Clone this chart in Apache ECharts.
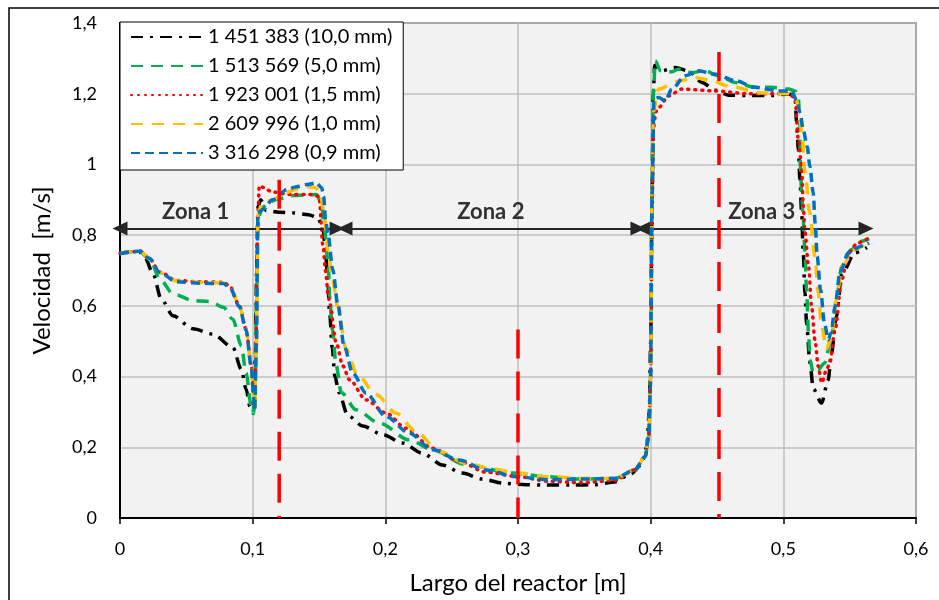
<!DOCTYPE html>
<html>
<head>
<meta charset="utf-8">
<script src="https://cdn.jsdelivr.net/npm/echarts@6/dist/echarts.min.js"></script>
<style>
  html, body { margin: 0; padding: 0; background: #fff; }
  #main { width: 939px; height: 600px; }
</style>
</head>
<body>
<div id="main"></div>
<script>
// series names (legend)
const seriesNames = ['1 451 383 (10,0 mm)', '1 513 569 (5,0 mm)', '1 923 001 (1,5 mm)', '2 609 996 (1,0 mm)', '3 316 298 (0,9 mm)'];
const seriesColors = ['#000000', '#00b050', '#ff0000', '#ffc000', '#0070c0'];

// [x (m), velocidad (m/s)]
const black10mm = [[0,0.748],[0.008,0.752],[0.015,0.752],[0.019,0.735],[0.025,0.69],[0.031,0.62],[0.04,0.572],[0.055,0.535],[0.07,0.52],[0.085,0.483],[0.0915,0.42],[0.095,0.365],[0.098,0.315],[0.1005,0.30],[0.102,0.45],[0.103,0.7],[0.104,0.88],[0.106,0.9],[0.11,0.87],[0.12,0.865],[0.13,0.863],[0.142,0.858],[0.149,0.85],[0.153,0.82],[0.155,0.75],[0.1565,0.68],[0.158,0.58],[0.16,0.48],[0.162,0.4],[0.165,0.355],[0.1717,0.29],[0.183,0.26],[0.198,0.236],[0.213,0.212],[0.228,0.183],[0.243,0.15],[0.258,0.127],[0.273,0.11],[0.29,0.098],[0.306,0.094],[0.32,0.093],[0.34,0.093],[0.358,0.094],[0.373,0.102],[0.385,0.125],[0.393,0.15],[0.397,0.2],[0.399,0.3],[0.4,0.5],[0.401,0.9],[0.402,1.2],[0.403,1.28],[0.405,1.275],[0.4085,1.265],[0.4185,1.274],[0.4286,1.265],[0.4386,1.232],[0.4486,1.21],[0.4586,1.196],[0.4737,1.195],[0.491,1.195],[0.5038,1.199],[0.5088,1.194],[0.510,1.12],[0.5113,1.043],[0.5125,0.958],[0.5138,0.863],[0.515,0.75],[0.5163,0.637],[0.5175,0.552],[0.52,0.44],[0.5226,0.365],[0.5288,0.325],[0.5338,0.39],[0.5363,0.467],[0.54,0.57],[0.544,0.69],[0.554,0.75],[0.563,0.765]];
const green5mm = [[0,0.748],[0.008,0.752],[0.015,0.752],[0.0226,0.731],[0.03,0.676],[0.04,0.634],[0.055,0.615],[0.068,0.612],[0.078,0.596],[0.085,0.562],[0.0915,0.487],[0.095,0.41],[0.099,0.315],[0.1005,0.295],[0.102,0.4],[0.103,0.65],[0.104,0.85],[0.108,0.88],[0.113,0.895],[0.12,0.903],[0.13,0.912],[0.141,0.913],[0.148,0.915],[0.152,0.89],[0.154,0.816],[0.157,0.72],[0.158,0.627],[0.16,0.533],[0.163,0.43],[0.1667,0.355],[0.178,0.306],[0.1955,0.268],[0.218,0.221],[0.2356,0.193],[0.2607,0.151],[0.296,0.127],[0.321,0.117],[0.348,0.11],[0.373,0.112],[0.388,0.136],[0.396,0.175],[0.3985,0.23],[0.4,0.4],[0.401,0.9],[0.402,1.2],[0.4035,1.293],[0.4073,1.265],[0.416,1.262],[0.421,1.269],[0.431,1.26],[0.441,1.265],[0.451,1.251],[0.4636,1.232],[0.4787,1.218],[0.491,1.218],[0.5038,1.213],[0.5088,1.208],[0.5113,1.189],[0.5125,1.11],[0.5128,0.996],[0.5138,0.92],[0.515,0.845],[0.5163,0.75],[0.5175,0.646],[0.519,0.523],[0.52,0.448],[0.5226,0.41],[0.526,0.419],[0.531,0.438],[0.536,0.504],[0.54,0.618],[0.544,0.712],[0.551,0.759],[0.559,0.783],[0.5646,0.79]];
const red15mm = [[0,0.748],[0.008,0.752],[0.015,0.755],[0.022,0.735],[0.03,0.696],[0.0426,0.672],[0.06,0.668],[0.078,0.667],[0.083,0.654],[0.09,0.6],[0.095,0.535],[0.099,0.43],[0.1005,0.355],[0.1015,0.31],[0.1025,0.5],[0.1035,0.8],[0.105,0.94],[0.108,0.935],[0.11,0.929],[0.115,0.922],[0.128,0.915],[0.143,0.915],[0.15,0.91],[0.153,0.77],[0.155,0.697],[0.157,0.627],[0.158,0.608],[0.163,0.495],[0.168,0.43],[0.173,0.391],[0.1855,0.334],[0.2005,0.297],[0.2155,0.254],[0.2356,0.197],[0.2556,0.16],[0.2757,0.13],[0.2982,0.118],[0.323,0.104],[0.348,0.1],[0.373,0.106],[0.388,0.136],[0.396,0.175],[0.3985,0.23],[0.4,0.4],[0.401,0.8],[0.402,1.1],[0.404,1.15],[0.406,1.161],[0.4135,1.194],[0.4236,1.213],[0.4486,1.208],[0.4737,1.2],[0.5038,1.2],[0.5088,1.189],[0.5113,1.071],[0.5138,0.996],[0.515,0.882],[0.5163,0.807],[0.519,0.712],[0.5213,0.599],[0.5238,0.504],[0.5263,0.429],[0.5288,0.382],[0.5326,0.419],[0.535,0.44],[0.539,0.533],[0.544,0.674],[0.549,0.75],[0.556,0.778],[0.5646,0.792]];
const orange10mm = [[0,0.748],[0.008,0.752],[0.015,0.755],[0.022,0.735],[0.03,0.694],[0.0426,0.67],[0.06,0.666],[0.078,0.665],[0.083,0.652],[0.09,0.6],[0.095,0.533],[0.099,0.43],[0.1005,0.355],[0.1015,0.31],[0.1028,0.49],[0.104,0.86],[0.107,0.89],[0.115,0.9],[0.125,0.92],[0.133,0.93],[0.142,0.937],[0.147,0.935],[0.151,0.92],[0.154,0.85],[0.157,0.75],[0.16,0.68],[0.164,0.6],[0.1704,0.478],[0.179,0.405],[0.193,0.349],[0.208,0.297],[0.223,0.245],[0.2406,0.188],[0.2607,0.155],[0.2807,0.138],[0.3008,0.127],[0.321,0.117],[0.348,0.112],[0.373,0.112],[0.388,0.136],[0.396,0.175],[0.3985,0.23],[0.4,0.4],[0.401,0.9],[0.402,1.15],[0.406,1.213],[0.42,1.235],[0.4336,1.246],[0.446,1.237],[0.4586,1.222],[0.4837,1.202],[0.5038,1.2],[0.5088,1.19],[0.5113,1.166],[0.514,1.09],[0.5163,0.977],[0.52,0.863],[0.5238,0.74],[0.5263,0.637],[0.5288,0.542],[0.5326,0.478],[0.536,0.51],[0.54,0.618],[0.544,0.712],[0.554,0.759],[0.5646,0.785]];
const blue09mm = [[0,0.748],[0.008,0.752],[0.015,0.755],[0.022,0.735],[0.03,0.694],[0.0426,0.668],[0.06,0.664],[0.078,0.663],[0.083,0.65],[0.09,0.598],[0.095,0.532],[0.099,0.428],[0.1005,0.354],[0.1015,0.306],[0.1028,0.485],[0.104,0.863],[0.1078,0.873],[0.115,0.9],[0.126,0.929],[0.133,0.937],[0.141,0.943],[0.148,0.948],[0.152,0.934],[0.1535,0.909],[0.155,0.84],[0.1566,0.807],[0.1604,0.703],[0.164,0.608],[0.169,0.485],[0.1754,0.41],[0.1855,0.353],[0.2005,0.287],[0.218,0.24],[0.2356,0.193],[0.2556,0.164],[0.2757,0.136],[0.2982,0.117],[0.323,0.108],[0.348,0.11],[0.373,0.112],[0.388,0.136],[0.396,0.174],[0.3985,0.23],[0.3998,0.372],[0.401,0.9],[0.4025,1.185],[0.406,1.189],[0.411,1.18],[0.416,1.213],[0.426,1.251],[0.436,1.265],[0.4486,1.255],[0.4636,1.237],[0.4787,1.218],[0.4963,1.208],[0.506,1.207],[0.51,1.183],[0.5126,1.146],[0.515,1.098],[0.518,1.05],[0.52,0.994],[0.5225,0.92],[0.524,0.835],[0.5255,0.74],[0.528,0.646],[0.531,0.552],[0.5338,0.504],[0.536,0.523],[0.539,0.599],[0.5426,0.693],[0.549,0.75],[0.559,0.769],[0.5646,0.778]];
const seriesData = [black10mm, green5mm, red15mm, orange10mm, blue09mm];

// red dashed vertical markers
const redLineX = [0.12, 0.3, 0.4515];
const redLineTop = [0.957, 0.533, 1.318];

// zone arrows and labels
const zoneNames = ['Zona 1', 'Zona 2', 'Zona 3'];
const zoneStart = [0, 0.1696, 0.3942];
const zoneEnd = [0.1636, 0.3904, 0.5623];
const zoneArrowY = 0.8185;
const zoneLabelX = [0.057, 0.2795, 0.4837];
const zoneLabelY = 0.866;

const FONT = 'Lato';
const dashes = [[12, 7, 3, 7], [12, 8], [1, 6], [12, 9], [9, 5]];

const chart = echarts.init(document.getElementById('main'), null, { renderer: 'canvas' });

const curveSeries = seriesNames.map((name, i) => ({
  name: name,
  type: 'line',
  data: seriesData[i],
  symbol: 'none',
  smooth: 0.3,
  smoothMonotone: 'x',
  color: seriesColors[i],
  lineStyle: { color: seriesColors[i], width: 3.5, type: dashes[i], cap: i === 2 ? 'round' : 'butt' },
  z: 2 + i
}));

// drawn from top to bottom so the dash pattern starts at the top
const redSeries = redLineX.map((x, i) => ({
  name: 'red' + i,
  type: 'line',
  data: [[x, redLineTop[i]], [x, 0]],
  symbol: 'none',
  silent: true,
  lineStyle: { color: '#ff0000', width: 3.5, type: [29, 13] },
  z: 10
}));

const zoneSeries = {
  name: 'zonas',
  type: 'scatter',
  symbolSize: 0,
  silent: true,
  z: 11,
  data: zoneNames.map((n, i) => ({ name: n, value: [zoneLabelX[i], zoneLabelY] })),
  label: {
    show: true, position: 'inside', formatter: '{b}',
    fontFamily: FONT, fontWeight: 'bold', fontSize: 22, color: '#000'
  },
  markLine: {
    silent: true,
    symbol: ['triangle', 'triangle'],
    symbolSize: [14, 15],
    label: { show: false },
    lineStyle: { color: '#262626', width: 2, type: 'solid' },
    data: zoneNames.map((n, i) => [
      { coord: [zoneStart[i], zoneArrowY] },
      { coord: [zoneEnd[i], zoneArrowY] }
    ])
  }
};

const commaFmt = v => String(Math.round(v * 10) / 10).replace('.', ',');

chart.setOption({
  backgroundColor: '#ffffff',
  animation: false,
  textStyle: { fontFamily: FONT },
  grid: {
    left: 120, right: 23, top: 23, bottom: 81,
    show: true, backgroundColor: '#f2f2f2', borderColor: '#3a3a3a', borderWidth: 1.5
  },
  legend: {
    data: seriesNames,
    orient: 'vertical',
    left: 120, top: 22,
    padding: [5, 11, 7, 10],
    itemWidth: 72, itemHeight: 14, itemGap: 9,
    itemStyle: { opacity: 0 },
    backgroundColor: '#ffffff', borderColor: '#000', borderWidth: 1,
    textStyle: { fontFamily: FONT, fontSize: 20, color: '#000', lineHeight: 20 },
    selectedMode: false
  },
  xAxis: {
    type: 'value', min: 0, max: 0.6, interval: 0.1,
    name: 'Largo del reactor [m]', nameLocation: 'middle', nameGap: 53,
    nameTextStyle: { fontFamily: FONT, fontSize: 24, color: '#000' },
    axisLine: { lineStyle: { color: '#000', width: 2 } },
    axisTick: { show: true, length: 6, lineStyle: { color: '#000', width: 1.5 } },
    axisLabel: { fontFamily: FONT, fontSize: 18, color: '#000', margin: 22, formatter: commaFmt },
    splitLine: { show: true, lineStyle: { color: '#bfbfbf', width: 1.5 } }
  },
  yAxis: {
    type: 'value', min: 0, max: 1.4, interval: 0.2,
    name: 'Velocidad  [m/s]', nameLocation: 'middle', nameGap: 66, nameRotate: 90,
    nameTextStyle: { fontFamily: FONT, fontSize: 24, color: '#000' },
    axisLine: { show: true, lineStyle: { color: '#000', width: 2 } },
    axisTick: { show: false },
    axisLabel: { fontFamily: FONT, fontSize: 18, color: '#000', margin: 23, formatter: commaFmt },
    splitLine: { show: true, lineStyle: { color: '#bfbfbf', width: 1.5 } }
  },
  graphic: [{
    type: 'rect', silent: true, z: 100,
    shape: { x: 9, y: 8, width: 960, height: 620 },
    style: { fill: 'none', stroke: '#000', lineWidth: 1.5 }
  }],
  series: curveSeries.concat(redSeries, [zoneSeries])
});
</script>
</body>
</html>
